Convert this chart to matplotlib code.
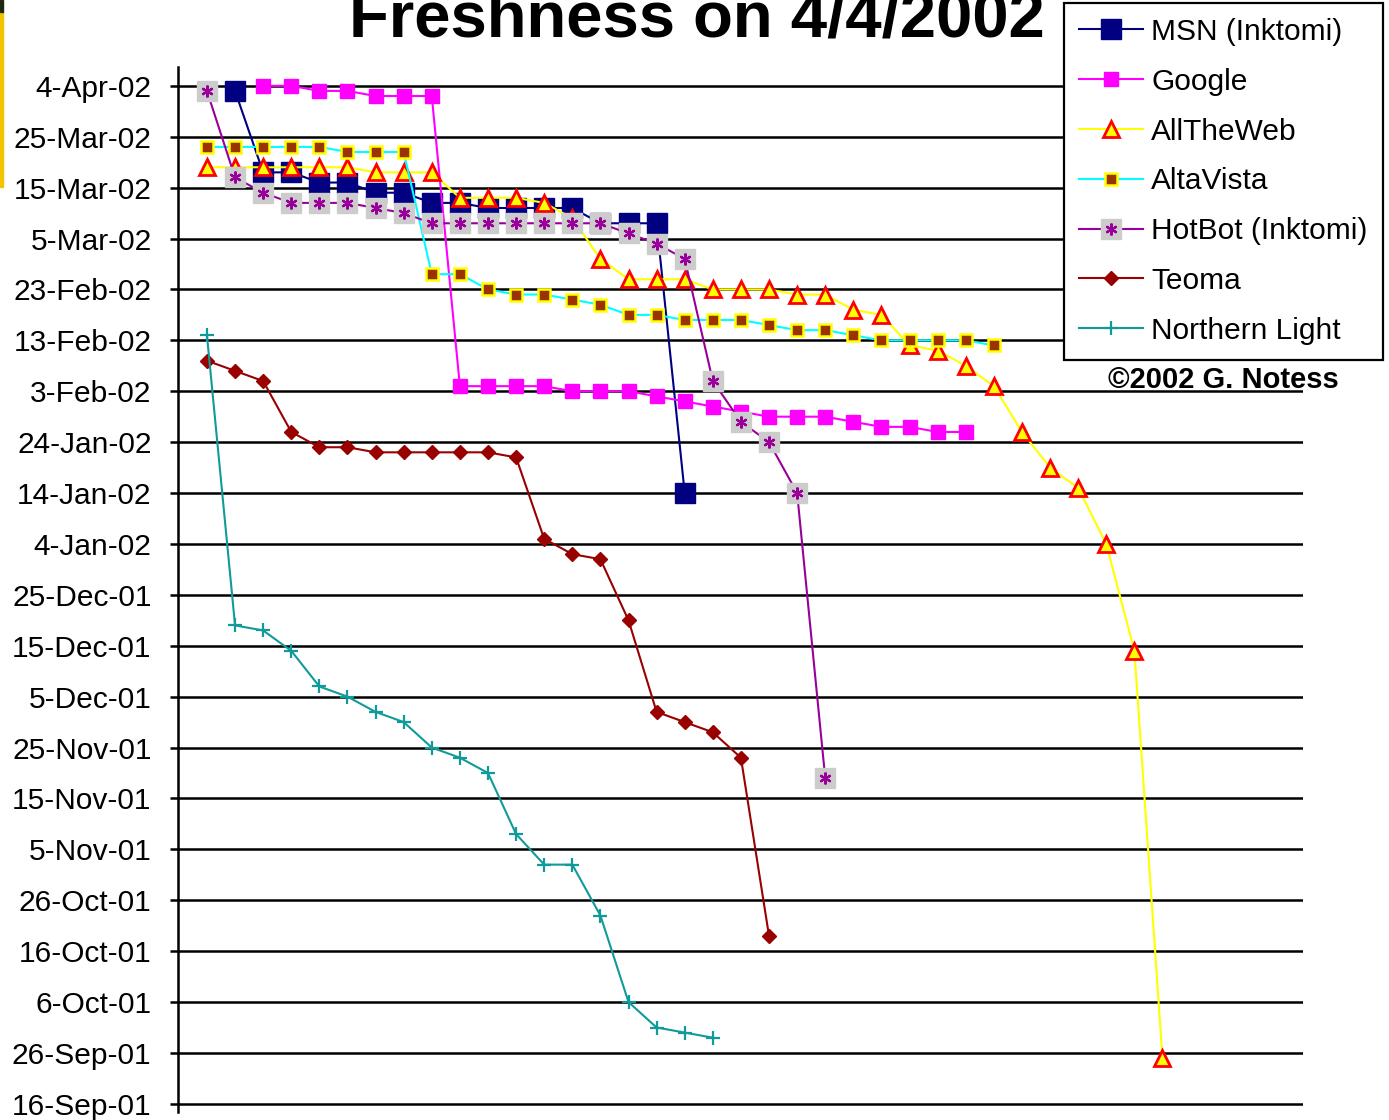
import numpy as np
import matplotlib
matplotlib.use('Agg')
import matplotlib.pyplot as plt
import matplotlib.dates as mdates
from datetime import date, timedelta
from matplotlib.legend_handler import HandlerTuple
from matplotlib.patches import Rectangle

plt.rcParams['font.family'] = ['Liberation Sans', 'DejaVu Sans']

# date of the newest page found on each engine, per sample (None = no sample)
msn = [None, '2002-04-03', '2002-03-18', '2002-03-18', '2002-03-16', '2002-03-16',
       '2002-03-14', '2002-03-14', '2002-03-12', '2002-03-12', '2002-03-11', '2002-03-11',
       '2002-03-11', '2002-03-11', '2002-03-08', '2002-03-08', '2002-03-08', '2002-01-14']
google = [None, None, '2002-04-04', '2002-04-04', '2002-04-03', '2002-04-03', '2002-04-02',
          '2002-04-02', '2002-04-02', '2002-02-04', '2002-02-04', '2002-02-04', '2002-02-04',
          '2002-02-03', '2002-02-03', '2002-02-03', '2002-02-02', '2002-02-01', '2002-01-31',
          '2002-01-30', '2002-01-29', '2002-01-29', '2002-01-29', '2002-01-28', '2002-01-27',
          '2002-01-27', '2002-01-26', '2002-01-26']
alltheweb = ['2002-03-19', '2002-03-19', '2002-03-19', '2002-03-19', '2002-03-19', '2002-03-19',
             '2002-03-18', '2002-03-18', '2002-03-18', '2002-03-13', '2002-03-13', '2002-03-13',
             '2002-03-12', '2002-03-09', '2002-03-01', '2002-02-25', '2002-02-25', '2002-02-25',
             '2002-02-23', '2002-02-23', '2002-02-23', '2002-02-22', '2002-02-22', '2002-02-19',
             '2002-02-18', '2002-02-12', '2002-02-11', '2002-02-08', '2002-02-04', '2002-01-26',
             '2002-01-19', '2002-01-15', '2002-01-04', '2001-12-14', '2001-09-25']
altavista = ['2002-03-23', '2002-03-23', '2002-03-23', '2002-03-23', '2002-03-23', '2002-03-22',
             '2002-03-22', '2002-03-22', '2002-02-26', '2002-02-26', '2002-02-23', '2002-02-22',
             '2002-02-22', '2002-02-21', '2002-02-20', '2002-02-18', '2002-02-18', '2002-02-17',
             '2002-02-17', '2002-02-17', '2002-02-16', '2002-02-15', '2002-02-15', '2002-02-14',
             '2002-02-13', '2002-02-13', '2002-02-13', '2002-02-13', '2002-02-12']
hotbot = ['2002-04-03', '2002-03-17', '2002-03-14', '2002-03-12', '2002-03-12', '2002-03-12',
          '2002-03-11', '2002-03-10', '2002-03-08', '2002-03-08', '2002-03-08', '2002-03-08',
          '2002-03-08', '2002-03-08', '2002-03-08', '2002-03-06', '2002-03-04', '2002-03-01',
          '2002-02-05', '2002-01-28', '2002-01-24', '2002-01-14', '2001-11-19']
teoma = ['2002-02-09', '2002-02-07', '2002-02-05', '2002-01-26', '2002-01-23', '2002-01-23',
         '2002-01-22', '2002-01-22', '2002-01-22', '2002-01-22', '2002-01-22', '2002-01-21',
         '2002-01-05', '2002-01-02', '2002-01-01', '2001-12-20', '2001-12-02', '2001-11-30',
         '2001-11-28', '2001-11-23', '2001-10-19']
northern = ['2002-02-14', '2001-12-19', '2001-12-18', '2001-12-14', '2001-12-07', '2001-12-05',
            '2001-12-02', '2001-11-30', '2001-11-25', '2001-11-23', '2001-11-20', '2001-11-08',
            '2001-11-02', '2001-11-02', '2001-10-23', '2001-10-06', '2001-10-01', '2001-09-30',
            '2001-09-29']


def to_num(series):
    return np.array([mdates.datestr2num(s) if s else np.nan for s in series])


fig = plt.figure(figsize=(13.89, 11.2), dpi=100)
ax = fig.add_axes([178 / 1389, 8 / 1120, (1303 - 178) / 1389, (1112 - 67) / 1120])

lw = 1.5
h_msn, = ax.plot(np.arange(len(msn)), to_num(msn), color='#000080', lw=lw,
                 marker='s', ms=15, mfc='#000080', mec='#000080', label='MSN (Inktomi)')
h_goo, = ax.plot(np.arange(len(google)), to_num(google), color='#ff00ff', lw=lw,
                 marker='s', ms=10, mfc='#ff00ff', mec='#ff00ff', label='Google')
h_atw, = ax.plot(np.arange(len(alltheweb)), to_num(alltheweb), color='#ffff00', lw=lw,
                 marker='^', ms=11.5, mfc='#ffff00', mec='#ff0000', mew=2, label='AllTheWeb')
h_alt, = ax.plot(np.arange(len(altavista)), to_num(altavista), color='#00ffff', lw=lw,
                 marker='s', ms=8.5, mfc='#993300', mec='#ffff00', mew=1.8, label='AltaVista')
h_hb1, = ax.plot(np.arange(len(hotbot)), to_num(hotbot), color='#990099', lw=lw,
                 marker='s', ms=14.5, mfc='#cccccc', mec='#cccccc')
h_hb2, = ax.plot(np.arange(len(hotbot)), to_num(hotbot), ls='none',
                 marker=(6, 2, 0), ms=8.5, mec='#990099', mew=1.6)
h_teo, = ax.plot(np.arange(len(teoma)), to_num(teoma), color='#990000', lw=lw,
                 marker='D', ms=7.5, mfc='#990000', mec='#990000', label='Teoma')
h_nor, = ax.plot(np.arange(len(northern)), to_num(northern), color='#109a9a', lw=lw,
                 marker='+', ms=10, mec='#109a9a', mew=1.6, label='Northern Light')

top = date(2002, 4, 4)
ticks = [top - timedelta(days=10 * k) for k in range(21)]
ax.set_yticks(mdates.date2num(ticks))
ax.set_yticklabels([f"{d.day}-{d.strftime('%b-%y')}" for d in ticks], fontsize=21.5)
ax.set_ylim(mdates.date2num(ticks[-1]) - 1.6, mdates.date2num(top) + 3.7)
ax.set_xlim(-1.03, 39.0)
ax.set_xticks([])

ax.grid(axis='y', color='black', lw=1.8)
ax.set_axisbelow(True)
for side in ['top', 'right', 'bottom']:
    ax.spines[side].set_visible(False)
ax.spines['left'].set_linewidth(1.8)
ax.tick_params(axis='y', direction='out', length=6, width=1.8, pad=13)

leg = ax.legend([h_msn, h_goo, h_atw, h_alt, (h_hb1, h_hb2), h_teo, h_nor],
                ['MSN (Inktomi)', 'Google', 'AllTheWeb', 'AltaVista', 'HotBot (Inktomi)',
                 'Teoma', 'Northern Light'],
                handler_map={tuple: HandlerTuple(ndivide=1)},
                loc='upper left', bbox_to_anchor=(1064 / 1389, 1 - 3 / 1120),
                bbox_transform=fig.transFigure, borderaxespad=0, borderpad=0.5,
                fontsize=21.5, handlelength=2.15, handletextpad=0.27, labelspacing=0.73,
                fancybox=False, framealpha=1, edgecolor='black')
leg.get_frame().set_linewidth(1.6)

fig.text(0.502, 1 - 37 / 1120, 'Freshness on 4/4/2002', ha='center', va='baseline',
         fontsize=47, fontweight='bold')
fig.text(1223 / 1389, 1 - 388 / 1120, '\u00a92002 G. Notess', ha='center', va='baseline',
         fontsize=21, fontweight='bold')

# thin strip on the left edge of the original page
fig.patches.append(Rectangle((0, 1 - 187 / 1120), 3 / 1389, 175 / 1120,
                             transform=fig.transFigure, color='#f2c400'))
fig.patches.append(Rectangle((0, 1 - 12 / 1120), 3 / 1389, 12 / 1120,
                             transform=fig.transFigure, color='#1c2814'))

fig.savefig('out.png', dpi=100)
